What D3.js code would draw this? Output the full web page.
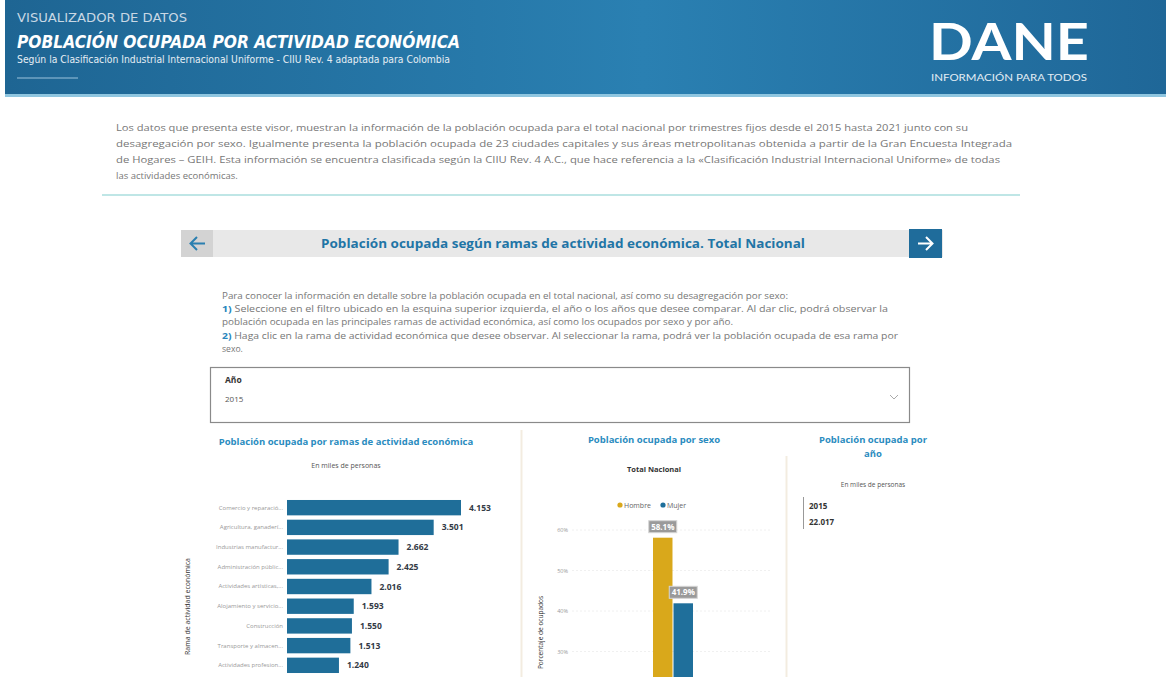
<!DOCTYPE html>
<html>
<head>
<meta charset="utf-8">
<script src="https://cdn.jsdelivr.net/npm/d3@7"></script>
<style>
  body { margin: 0; background: #fff; }
  svg { display: block; }
  text { font-family: "Open Sans", "Noto Sans", sans-serif; }
</style>
</head>
<body>
<svg id="chart" width="1171" height="677"></svg>
<script>
// --- data ---
var ramas = ["Comercio y reparació...", "Agricultura, ganaderí...", "Industrias manufactur...",
  "Administración públic...", "Actividades artísticas,...", "Alojamiento y servicio...",
  "Construcción", "Transporte y almacen...", "Actividades profesion..."];
var ocupados = [4153, 3501, 2662, 2425, 2016, 1593, 1550, 1513, 1240];

var sexos = ["Hombre", "Mujer"];
var porcentajes = [58.1, 41.9];
var pctTicks = [30, 40, 50, 60];

var anios = ["2015"];
var totalAnio = [22017];

var intro = [
  "Los datos que presenta este visor, muestran la información de la población ocupada para el total nacional por trimestres fijos desde el 2015 hasta 2021 junto con su",
  "desagregación por sexo. Igualmente presenta la población ocupada de 23 ciudades capitales y sus áreas metropolitanas obtenida a partir de la Gran Encuesta Integrada",
  "de Hogares – GEIH. Esta información se encuentra clasificada según la CIIU Rev. 4 A.C., que hace referencia a la «Clasificación Industrial Internacional Uniforme» de todas",
  "las actividades económicas."
];
var introWidths = [852, 896, 884, null];

var pasos = [
  ["", "Para conocer la información en detalle sobre la población ocupada en el total nacional, así como su desagregación por sexo:"],
  ["1)", " Seleccione en el filtro ubicado en la esquina superior izquierda, el año o los años que desee comparar. Al dar clic, podrá observar la"],
  ["", "población ocupada en las principales ramas de actividad económica, así como los ocupados por sexo y por año."],
  ["2)", " Haga clic en la rama de actividad económica que desee observar. Al seleccionar la rama, podrá ver la población ocupada de esa rama por"],
  ["", "sexo."]
];

var fmt = d3.format(",");
function miles(v) { return fmt(v).replace(/,/g, "."); }

var svg = d3.select("#chart");
var defs = svg.append("defs");

// --- header ---
var grad = defs.append("linearGradient").attr("id", "hdr").attr("x1", 0).attr("x2", 1).attr("y1", 0).attr("y2", 0);
grad.append("stop").attr("offset", "0%").attr("stop-color", "#1e6593");
grad.append("stop").attr("offset", "55%").attr("stop-color", "#2a80b2");
grad.append("stop").attr("offset", "100%").attr("stop-color", "#1f6798");

svg.append("rect").attr("x", 5).attr("y", 0).attr("width", 1161).attr("height", 96).attr("fill", "url(#hdr)");
svg.append("rect").attr("x", 5).attr("y", 94).attr("width", 1161).attr("height", 3).attr("fill", "#8fc6e0");

svg.append("text").attr("x", 17).attr("y", 22)
  .style("font-family", "'DejaVu Sans Condensed', 'DejaVu Sans', sans-serif").style("font-stretch", "condensed")
  .style("font-size", "13px").attr("fill", "#c9d8e4")
  .attr("textLength", 170).attr("lengthAdjust", "spacingAndGlyphs")
  .text("VISUALIZADOR DE DATOS");
svg.append("text").attr("x", 17).attr("y", 48)
  .style("font-family", "'DejaVu Sans Condensed', 'DejaVu Sans', sans-serif")
  .style("font-size", "17px").style("font-weight", "bold").style("font-style", "italic").attr("fill", "#ffffff")
  .attr("textLength", 443).attr("lengthAdjust", "spacingAndGlyphs")
  .text("POBLACIÓN OCUPADA POR ACTIVIDAD ECONÓMICA");
svg.append("text").attr("x", 17).attr("y", 63)
  .style("font-family", "'DejaVu Sans Condensed', 'DejaVu Sans', sans-serif")
  .style("font-size", "10.5px").attr("fill", "#e6eef4")
  .attr("textLength", 433).attr("lengthAdjust", "spacingAndGlyphs")
  .text("Según la Clasificación Industrial Internacional Uniforme - CIIU Rev. 4 adaptada para Colombia");
svg.append("line").attr("x1", 17).attr("x2", 78).attr("y1", 78).attr("y2", 78)
  .attr("stroke", "#9cc3dc").attr("stroke-width", 1);

svg.append("text").attr("x", 929).attr("y", 60)
  .style("font-family", "Lato, 'Open Sans', sans-serif").style("font-size", "52px").style("font-weight", "bold")
  .attr("fill", "#ffffff").attr("textLength", 160).attr("lengthAdjust", "spacingAndGlyphs")
  .text("DANE");
svg.append("text").attr("x", 931).attr("y", 81)
  .style("font-family", "Lato, 'Open Sans', sans-serif").style("font-size", "9px")
  .attr("fill", "#e2edf4").attr("textLength", 156).attr("lengthAdjust", "spacingAndGlyphs")
  .text("INFORMACIÓN PARA TODOS");

// --- intro paragraph ---
intro.forEach(function(line, i) {
  var t = svg.append("text").attr("x", 116).attr("y", 131 + i * 16)
    .style("font-size", "9.5px").attr("fill", "#777777").text(line);
  if (introWidths[i]) t.attr("textLength", introWidths[i]).attr("lengthAdjust", "spacingAndGlyphs");
});
svg.append("line").attr("x1", 102).attr("x2", 1020).attr("y1", 195).attr("y2", 195)
  .attr("stroke", "#bfe6e6").attr("stroke-width", 2);

// --- panel title bar ---
svg.append("rect").attr("x", 181).attr("y", 230).attr("width", 762).attr("height", 27).attr("fill", "#e8e8e8");
svg.append("rect").attr("x", 181).attr("y", 230).attr("width", 32).attr("height", 27).attr("fill", "#d3d3d3");
svg.append("rect").attr("x", 909).attr("y", 229).attr("width", 33).attr("height", 29).attr("fill", "#1f6c9b");
svg.append("path").attr("d", "M205,243.5 H191 M197,237 L190.5,243.5 L197,250")
  .attr("fill", "none").attr("stroke", "#2a7fb0").attr("stroke-width", 2);
svg.append("path").attr("d", "M918,243.5 H932 M926,237 L932.5,243.5 L926,250")
  .attr("fill", "none").attr("stroke", "#ffffff").attr("stroke-width", 2);
svg.append("text").attr("x", 563).attr("y", 248).attr("text-anchor", "middle")
  .style("font-size", "13px").style("font-weight", "bold").attr("fill", "#1f75a6")
  .attr("textLength", 484).attr("lengthAdjust", "spacingAndGlyphs")
  .text("Población ocupada según ramas de actividad económica. Total Nacional");

// --- instructions ---
var pw = [566, 666, 511, 676, null];
pasos.forEach(function(p, i) {
  var t = svg.append("text").attr("x", 222).attr("y", 299 + i * 13.2)
    .style("font-size", "8.6px").attr("fill", "#777777");
  if (p[0]) t.append("tspan").attr("fill", "#2a86bd").style("font-weight", "bold").text(p[0]);
  t.append("tspan").text(p[1]);
  if (pw[i]) t.attr("textLength", pw[i]).attr("lengthAdjust", "spacingAndGlyphs");
});

// --- year filter ---
svg.append("rect").attr("x", 210.5).attr("y", 367.5).attr("width", 699).attr("height", 55)
  .attr("fill", "#fff").attr("stroke", "#8a8a8a").attr("stroke-width", 1.2);
svg.append("text").attr("x", 225).attr("y", 383).style("font-size", "8.5px").style("font-weight", "bold")
  .attr("fill", "#333").text("Año");
svg.append("text").attr("x", 225).attr("y", 402).style("font-size", "8px").attr("fill", "#555").text(anios[0]);
svg.append("path").attr("d", "M890,395 L894,399 L898,395").attr("fill", "none").attr("stroke", "#aaa").attr("stroke-width", 1);

// --- section titles & separators ---
function secTitle(x, y, txt) {
  svg.append("text").attr("x", x).attr("y", y).attr("text-anchor", "middle")
    .style("font-size", "9.5px").style("font-weight", "bold").attr("fill", "#2b8cc0").text(txt);
}
secTitle(346, 445, "Población ocupada por ramas de actividad económica");
secTitle(654, 443, "Población ocupada por sexo");
secTitle(873, 443, "Población ocupada por");
secTitle(873, 457, "año");
svg.append("line").attr("x1", 521.5).attr("x2", 521.5).attr("y1", 430).attr("y2", 677).attr("stroke", "#f3ece0").attr("stroke-width", 2);
svg.append("line").attr("x1", 786.5).attr("x2", 786.5).attr("y1", 456).attr("y2", 677).attr("stroke", "#f3ece0").attr("stroke-width", 2);

// --- bar chart: ramas ---
svg.append("text").attr("x", 346).attr("y", 468).attr("text-anchor", "middle")
  .style("font-size", "7px").attr("fill", "#555").text("En miles de personas");

var xScale = d3.scaleLinear().domain([0, d3.max(ocupados)]).range([287, 461]);
var yScale = d3.scaleBand().domain(ramas).range([499, 674]).paddingInner(0.22).paddingOuter(0.05);

var gBar = svg.append("g");
gBar.append("g")
  .attr("transform", "translate(" + xScale(0) + ",0)")
  .call(d3.axisLeft(yScale).tickSize(0).tickPadding(4))
  .call(function(g) {
    g.select(".domain").remove();
    g.selectAll("text").style("font-size", "6px").attr("fill", "#999")
      .style("font-family", "'Open Sans', sans-serif");
  });
gBar.selectAll(".bar").data(ocupados).enter().append("rect")
  .attr("class", "bar")
  .attr("x", xScale(0))
  .attr("y", function(d, i) { return yScale(ramas[i]); })
  .attr("width", function(d) { return xScale(d) - xScale(0); })
  .attr("height", yScale.bandwidth())
  .attr("fill", "#1f6e99");
gBar.selectAll(".val").data(ocupados).enter().append("text")
  .attr("class", "val")
  .attr("x", function(d) { return xScale(d) + 8; })
  .attr("y", function(d, i) { return yScale(ramas[i]) + yScale.bandwidth() / 2 + 3; })
  .style("font-size", "8.5px").style("font-weight", "bold").attr("fill", "#333a45")
  .text(function(d) { return miles(d); });
svg.append("text").attr("transform", "translate(190,558) rotate(-90)").attr("text-anchor", "end")
  .style("font-size", "7px").attr("fill", "#333").text("Rama de actividad económica");

// --- column chart: sexo ---
svg.append("text").attr("x", 654).attr("y", 472).attr("text-anchor", "middle")
  .style("font-size", "7.5px").style("font-weight", "bold").attr("fill", "#333").text("Total Nacional");

var sexColor = d3.scaleOrdinal().domain(sexos).range(["#d9a81b", "#1f6f9b"]);
var lg = svg.append("g").attr("transform", "translate(620,505)");
var lx = 0;
sexos.forEach(function(s) {
  lg.append("circle").attr("cx", lx).attr("cy", 0).attr("r", 2.6).attr("fill", sexColor(s));
  lg.append("text").attr("x", lx + 4).attr("y", 2.5).style("font-size", "7px").attr("fill", "#666").text(s);
  lx += 43;
});

var yPct = d3.scaleLinear().domain([0, 60]).range([773, 530]);
var xSex = d3.scaleBand().domain(sexos).range([653, 693]).paddingInner(0.05);

var gSex = svg.append("g");
gSex.append("g")
  .attr("transform", "translate(572,0)")
  .call(d3.axisLeft(yPct).tickValues(pctTicks).tickSize(0).tickPadding(4)
    .tickFormat(function(d) { return d + "%"; }))
  .call(function(g) {
    g.select(".domain").remove();
    g.selectAll("text").style("font-size", "5.5px").attr("fill", "#999")
      .style("font-family", "'Open Sans', sans-serif");
  });
gSex.selectAll(".grid").data(pctTicks).enter().append("line")
  .attr("x1", 572).attr("x2", 772)
  .attr("y1", function(d) { return yPct(d); }).attr("y2", function(d) { return yPct(d); })
  .attr("stroke", "#f0f0f0").attr("stroke-width", 1).attr("stroke-dasharray", "2,2");
gSex.selectAll(".col").data(porcentajes).enter().append("rect")
  .attr("x", function(d, i) { return xSex(sexos[i]); })
  .attr("y", function(d) { return yPct(d); })
  .attr("width", xSex.bandwidth())
  .attr("height", function(d) { return yPct(0) - yPct(d); })
  .attr("fill", function(d, i) { return sexColor(sexos[i]); });
var lbl = gSex.selectAll(".lbl").data(porcentajes).enter().append("g")
  .attr("transform", function(d, i) {
    return "translate(" + (xSex(sexos[i]) + xSex.bandwidth() / 2) + "," + (yPct(d) - 11) + ")";
  });
lbl.append("rect").attr("x", -14).attr("y", -6).attr("width", 28).attr("height", 12)
  .attr("fill", "#9a9a9a").attr("stroke", "#d5d5d5").attr("stroke-width", 1);
lbl.append("text").attr("text-anchor", "middle").attr("y", 3)
  .style("font-size", "8px").style("font-weight", "bold").attr("fill", "#fff")
  .text(function(d) { return d.toFixed(1) + "%"; });
svg.append("text").attr("transform", "translate(543,596) rotate(-90)").attr("text-anchor", "end")
  .style("font-size", "6.5px").attr("fill", "#333").text("Porcentaje de ocupados");

// --- card: año ---
svg.append("text").attr("x", 873).attr("y", 487).attr("text-anchor", "middle")
  .style("font-size", "6.5px").attr("fill", "#555").text("En miles de personas");
var card = svg.append("g");
card.append("line").attr("x1", 803.5).attr("x2", 803.5).attr("y1", 497).attr("y2", 529)
  .attr("stroke", "#999").attr("stroke-width", 1);
anios.forEach(function(a, i) {
  card.append("text").attr("x", 809).attr("y", 509).style("font-size", "8px").style("font-weight", "bold")
    .attr("fill", "#333").text(a);
  card.append("text").attr("x", 809).attr("y", 525).style("font-size", "8px").style("font-weight", "bold")
    .attr("fill", "#333").text(miles(totalAnio[i]));
});
</script>
</body>
</html>
